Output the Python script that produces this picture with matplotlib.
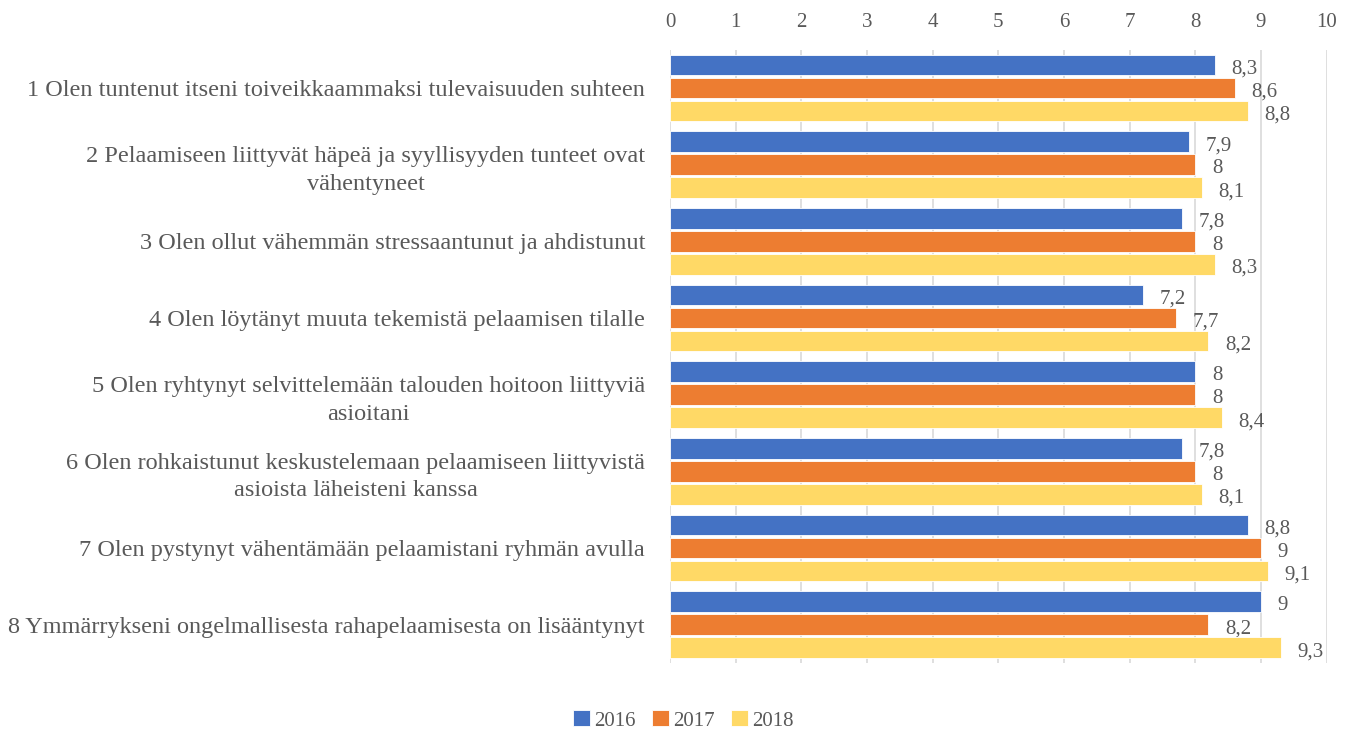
import matplotlib
matplotlib.use('Agg')
import matplotlib.pyplot as plt
import numpy as np

plt.rcParams['font.family'] = ['Liberation Serif', 'DejaVu Serif']

# === Data ===
categories = [
    '1 Olen tuntenut itseni toiveikkaammaksi tulevaisuuden suhteen',
    '2 Pelaamiseen liittyvät häpeä ja syyllisyyden tunteet ovat\nvähentyneet',
    '3 Olen ollut vähemmän stressaantunut ja ahdistunut',
    '4 Olen löytänyt muuta tekemistä pelaamisen tilalle',
    '5 Olen ryhtynyt selvittelemään talouden hoitoon liittyviä\nasioitani',
    '6 Olen rohkaistunut keskustelemaan pelaamiseen liittyvistä\nasioista läheisteni kanssa',
    '7 Olen pystynyt vähentämään pelaamistani ryhmän avulla',
    '8 Ymmärrykseni ongelmallisesta rahapelaamisesta on lisääntynyt',
]
years = ['2016', '2017', '2018']
vals_2016 = [8.3, 7.9, 7.8, 7.2, 8.0, 7.8, 8.8, 9.0]
vals_2017 = [8.6, 8.0, 8.0, 7.7, 8.0, 8.0, 9.0, 8.2]
vals_2018 = [8.8, 8.1, 8.3, 8.2, 8.4, 8.1, 9.1, 9.3]
colors = ['#4472C4', '#ED7D31', '#FFD966']

TEXT = '#595959'

fig = plt.figure(figsize=(13.53, 7.31), dpi=100)
ax = fig.add_axes([0.4952, 0.093, 0.4853, 0.839])

y = np.arange(len(categories))
series = [vals_2016, vals_2017, vals_2018]
offsets = [-0.3, 0.0, 0.3]
for vals, off, col, yr in zip(series, offsets, colors, years):
    bars = ax.barh(y + off, vals, height=0.27, color=col, edgecolor='white',
                   linewidth=0.6, label=yr, zorder=3)
    for b, v in zip(bars, vals):
        txt = ('%g' % v).replace('.', ',')
        ax.annotate(txt, (v, b.get_y() + b.get_height() / 2), xytext=(12, -3),
                    textcoords='offset points', va='center', ha='left',
                    fontsize=15, color=TEXT)

ax.set_xlim(0, 10)
ax.set_ylim(len(categories) - 0.5, -0.5)
ax.set_xticks(range(0, 11))
ax.xaxis.tick_top()
ax.tick_params(axis='x', length=0, pad=13, labelsize=15, labelcolor=TEXT)
ax.set_yticks(y)
ax.set_yticklabels(categories, fontsize=17.5, color=TEXT, multialignment='center',
                   linespacing=1.4)
ax.tick_params(axis='y', length=0, pad=18)
ax.grid(axis='x', color='#D9D9D9', linewidth=1.2, zorder=0)
for s in ax.spines.values():
    s.set_visible(False)

fig.legend(loc='lower center', bbox_to_anchor=(0.505, -0.025), ncol=3, frameon=False,
           fontsize=15, labelcolor=TEXT, handlelength=0.8, handleheight=0.8,
           handletextpad=0.2, columnspacing=0.8)

fig.savefig('out.png', dpi=100)
